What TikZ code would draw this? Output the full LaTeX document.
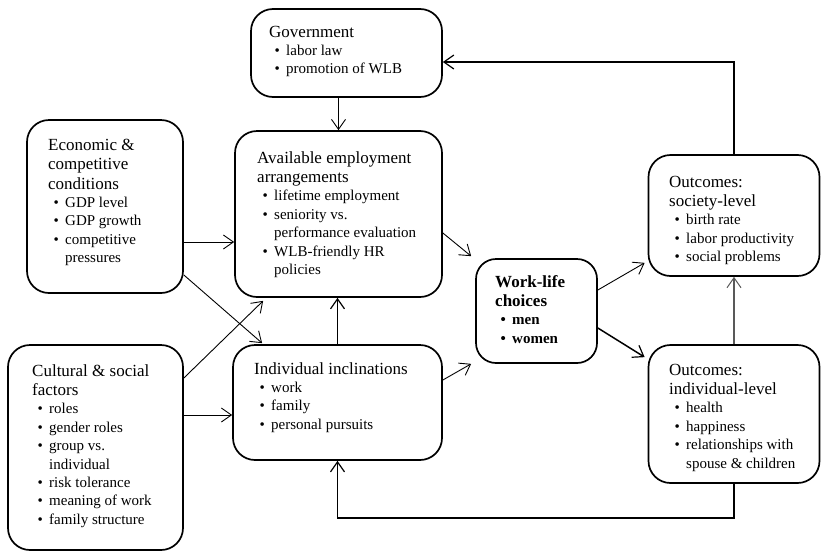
\documentclass[tikz,border=0pt]{standalone}
\usepackage{fontspec}
\setmainfont{Liberation Serif}
\usetikzlibrary{arrows.meta,calc}
\newcommand\wbul[1]{\par\hspace*{5.5pt}\makebox[11.5pt][l]{\textbullet}#1}
\newcommand\wcont[1]{\par\hspace*{17pt}#1}
\newcommand\wtitle[1]{{\fontsize{17}{19.5}\selectfont #1\par}\fontsize{15}{18.4}\selectfont}
\newcommand\wtext[1]{\parbox[t]{200pt}{\raggedright #1}}
\begin{document}
\begin{tikzpicture}[x=1pt,y=-1pt,
  box/.style={draw, line width=1.7pt, rounded corners=22pt, inner sep=0pt},
  txt/.style={anchor=base west, inner sep=0pt},
  con/.style={line width=0.9pt, -{Straight Barb[length=10pt,width=14pt,line width=0.9pt]}},
  conthick/.style={line width=1.5pt, -{Straight Barb[length=10pt,width=14pt,line width=1.2pt]}},
  congray/.style={line width=1.3pt, draw=black!65, -{Straight Barb[length=10pt,width=14pt,line width=1pt]}}]
\useasboundingbox (0,0) rectangle (821,552);
% boxes
\node[box, minimum width=191pt, minimum height=88pt] (gov) at (346.5,53) {};
\node[box, minimum width=207pt, minimum height=166pt] (ae) at (338.5,214) {};
\node[box, minimum width=156pt, minimum height=173pt] (econ) at (105,206.5) {};
\node[box, minimum width=175pt, minimum height=205pt] (cult) at (95.5,447.5) {};
\node[box, minimum width=209pt, minimum height=115pt] (ii) at (337.5,402.5) {};
\node[box, minimum width=121pt, minimum height=104pt, rounded corners=20pt] (wl) at (536.5,311) {};
\node[box, minimum width=171pt, minimum height=121pt] (os) at (734,215.5) {};
\node[box, minimum width=171pt, minimum height=138pt] (oi) at (734,414) {};
% texts
\node[txt] (govt) at (269,37) {\wtext{\wtitle{Government}\wbul{labor law}\wbul{promotion of WLB}}};
\node[txt] (aet) at (257,163) {\wtext{\wtitle{Available employment\\arrangements}\wbul{lifetime employment}\wbul{seniority vs.}\wcont{performance evaluation}\wbul{WLB-friendly HR}\wcont{policies}}};
\node[txt] (econt) at (48,150) {\wtext{\wtitle{Economic \&\\competitive\\conditions}\wbul{GDP level}\wbul{GDP growth}\wbul{competitive}\wcont{pressures}}};
\node[txt] (cultt) at (32,376) {\wtext{\wtitle{Cultural \& social\\factors}\wbul{roles}\wbul{gender roles}\wbul{group vs.}\wcont{individual}\wbul{risk tolerance}\wbul{meaning of work}\wbul{family structure}}};
\node[txt] (iit) at (254,374) {\wtext{\wtitle{Individual inclinations}\wbul{work}\wbul{family}\wbul{personal pursuits}}};
\node[txt] (wlt) at (495,287) {\wtext{\bfseries\wtitle{\bfseries Work-life\\choices}\bfseries\wbul{men}\wbul{women}}};
\node[txt] (ost) at (669,187) {\wtext{\wtitle{Outcomes:\\society-level}\wbul{birth rate}\wbul{labor productivity}\wbul{social problems}}};
\node[txt] (oit) at (669,375) {\wtext{\wtitle{Outcomes:\\individual-level}\wbul{health}\wbul{happiness}\wbul{relationships with}\wcont{spouse \& children}}};
% connectors
\draw[con] (gov.south -| ae.north) -- (ae.north);
\draw[conthick] (os.north) |- (gov.east |- 0,62);
\draw[conthick] (oi.south) -- (oi.south |- 0,518) -| (ii.south);
\draw[conthick] (ii.north) -- (ii.north |- ae.south);
\draw[con] (econ.east |- 0,242) -- (ae.west |- 0,242);
\draw[con] (cult.east |- 0,415) -- (ii.west |- 0,415);
\draw[con] (econ.east |- 0,275) -- ($(ii.north west)+(30,-1)$);
\draw[con] (cult.east |- 0,378) -- ($(ae.south west)+(29,3)$);
\draw[con] (ae.east |- 0,233) -- ($(wl.north west)+(-4,-2)$);
\draw[con] (ii.east |- 0,380) -- ($(wl.south west)+(-4,0)$);
\draw[con] (wl.east |- 0,290) -- ($(os.south west)+(-3,-14)$);
\draw[conthick] (wl.east |- 0,328) -- ($(oi.north west)+(-3,13)$);
\draw[congray] (oi.north) -- (os.south);
\end{tikzpicture}
\end{document}
